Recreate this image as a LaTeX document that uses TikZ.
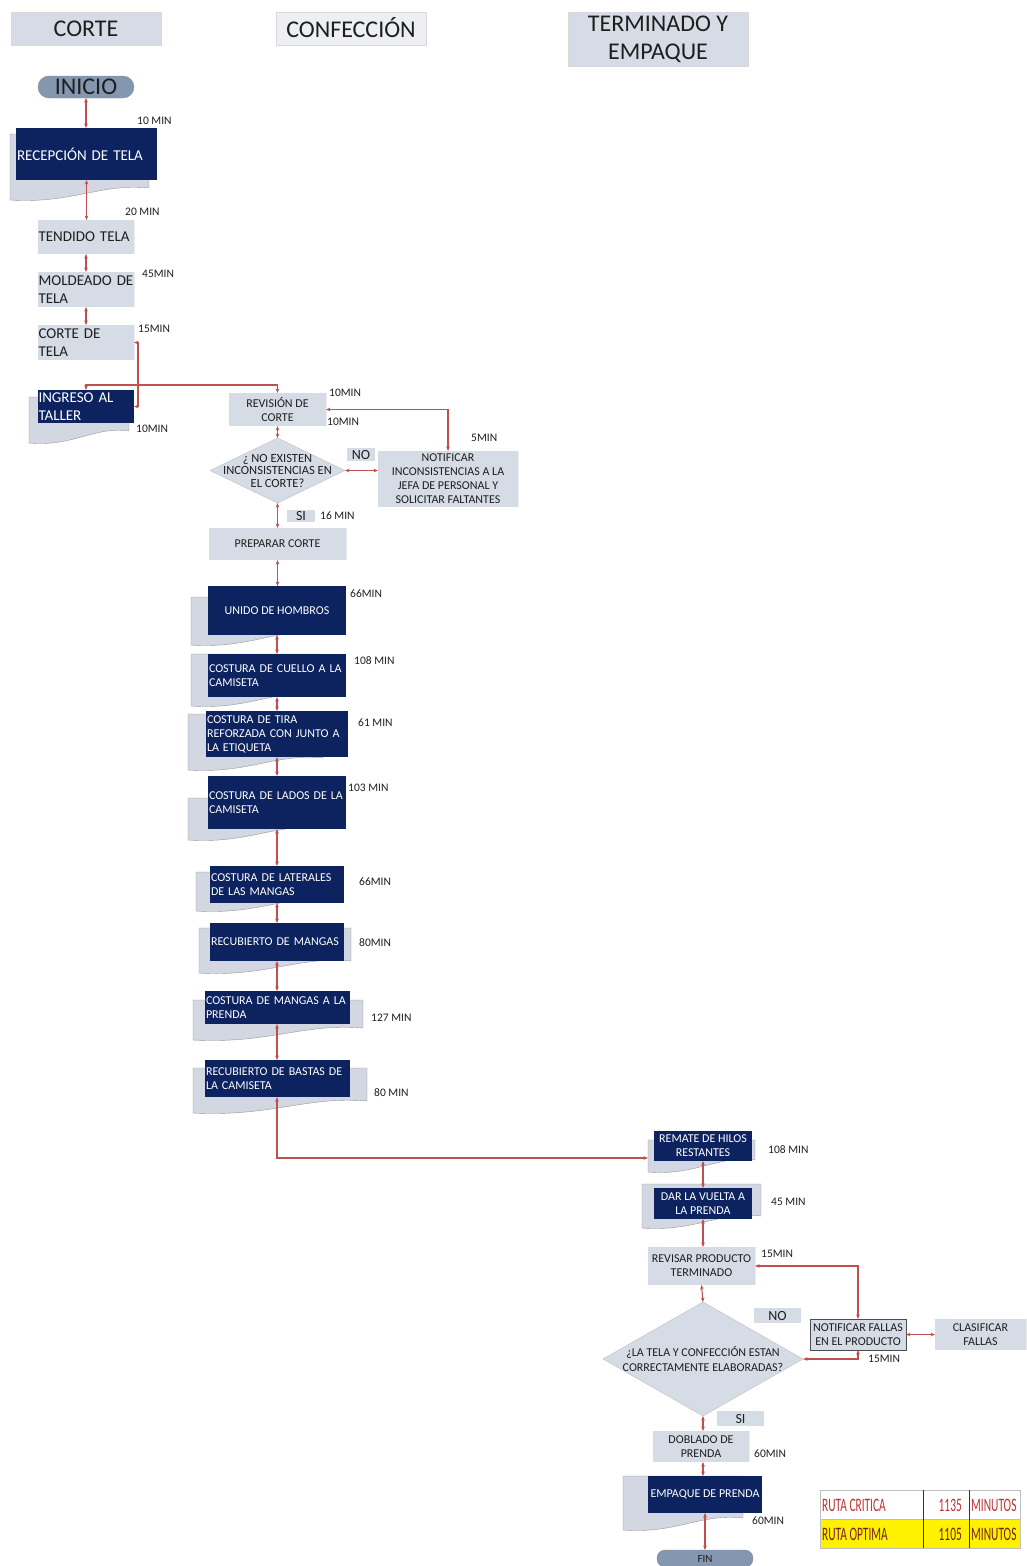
\documentclass[tikz,border=0pt]{standalone}
\usepackage{fontspec}
\setmainfont{Carlito}
\newfontfamily\tabfont[FakeStretch=0.6]{Carlito}
\usetikzlibrary{arrows.meta,shapes.geometric}
\definecolor{navyc}{RGB}{12,35,95}
\definecolor{lightc}{RGB}{214,220,229}
\definecolor{lightcc}{RGB}{237,239,243}
\definecolor{slatec}{RGB}{132,151,176}
\definecolor{connc}{RGB}{192,80,77}
\definecolor{textc}{RGB}{30,30,30}
\definecolor{redc}{RGB}{192,50,50}
\definecolor{darkredc}{RGB}{120,30,30}
\definecolor{docfill}{RGB}{210,215,225}
\newcommand\mydoc[4]{%
  \pgfmathsetmacro\dw{#3-#1}%
  \filldraw[fill=docfill,draw=black!40,line width=0.4pt] (#1,#2) -- (#3,#2) -- (#3,{#4-12}) .. controls ({#3-0.35*\dw},{#4-17}) and ({#1+0.45*\dw},{#4+4}) .. (#1,#4) -- cycle;}
\tikzset{
  base/.style={inner sep=0pt, outer sep=0pt, anchor=north west, font=\fontsize{12}{14}\selectfont},
  cfont/.style={font=\fontsize{15}{17.5}\selectfont},
  navybox/.style={base, fill=navyc, text=white},
  lightbox/.style={base, fill=lightc, text=textc, path picture={\draw[black!60,line width=0.9pt] (path picture bounding box.north east) -- (path picture bounding box.south east);}},
  hdr/.style={base, fill=lightc, draw=black!15, text=textc, align=center, font=\fontsize{24}{28}\selectfont},
  pill/.style={base, fill=slatec, draw=black!45, text=textc, align=center},
  lbl/.style={base, fill=lightc, text=textc, align=center, font=\fontsize{14}{14}\selectfont},
  tlabel/.style={anchor=west, inner sep=0pt, text=textc, font=\fontsize{11.5}{13}\selectfont},
  conn/.style={draw=connc, line width=1.1pt, {Stealth[length=4.5pt,width=3.6pt]}-{Stealth[length=4.5pt,width=3.6pt]}},
  ttext/.style={inner sep=0pt, font=\tabfont\fontsize{19}{20}\selectfont},
}
\begin{document}
\begin{tikzpicture}[x=1pt,y=-1pt]
\useasboundingbox (0,0) rectangle (1026,1566);
% headers
\node[hdr, minimum width=150, minimum height=33] (hcorte) at (11,12) {CORTE};
\node[hdr, fill=lightcc, minimum width=150, minimum height=33] (hconf) at (276,12) {\raisebox{1.5pt}{CONFECCIÓN}};
\node[hdr, minimum width=180, minimum height=54] (hterm) at (568,12) {TERMINADO Y\\EMPAQUE};
% CORTE column
\node[pill, rounded corners=11pt, minimum width=96, minimum height=22, font=\fontsize{24}{24}\selectfont] (inicio) at (38,76) {INICIO};
\mydoc{10}{134}{149}{200}
\node[navybox, cfont, align=left, text width=139, inner xsep=1pt, minimum height=52] (recep) at (16,128) {RECEPCIÓN DE TELA};
\node[lightbox, cfont, align=left, text width=95, inner xsep=0.5pt, minimum height=34] (tendido) at (38,220) {TENDIDO TELA};
\node[lightbox, cfont, align=left, text width=95, inner xsep=0.5pt, minimum height=35] (moldeado) at (38,272) {\mbox{MOLDEADO DE}\\TELA};
\node[lightbox, cfont, align=left, text width=95, inner xsep=0.5pt, minimum height=35] (cortetela) at (38,325) {CORTE DE\\TELA};
\mydoc{29}{397}{129}{443}
\node[navybox, cfont, align=left, text width=95, inner xsep=0.5pt, minimum height=33] (ingreso) at (38,390) {INGRESO AL\\TALLER};
% CONFECCION column
\node[lightbox, align=center, minimum width=97, minimum height=33] (revision) at (229,393) {REVISIÓN DE\\CORTE};
\node[diamond, fill=lightc, draw=black!25, inner sep=0pt, outer sep=0pt, minimum width=135, minimum height=65,
  label={[align=center, inner sep=0pt, text=textc, font=\fontsize{12.5}{12.5}\selectfont]center:{¿ NO EXISTEN\\INCONSISTENCIAS EN\\EL CORTE?}}] (dia1) at (277.5,470.5) {};
\node[lightbox, align=center, minimum width=140, minimum height=56] (notif) at (378,451) {NOTIFICAR\\INCONSISTENCIAS A LA\\JEFA DE PERSONAL Y\\SOLICITAR FALTANTES};
\node[lbl, minimum width=28, minimum height=13] (no1) at (347,448) {NO};
\node[lbl, minimum width=28, minimum height=12] (si1) at (287,510) {SI};
\node[lightbox, align=center, minimum width=137, minimum height=32] (prep) at (209,528) {PREPARAR CORTE};
\mydoc{191}{597}{322}{645}
\node[navybox, align=center, minimum width=138, minimum height=49] (unido) at (208,586) {UNIDO DE HOMBROS};
\mydoc{191}{654}{320}{706}
\node[navybox, align=left, text width=136, inner xsep=1pt, minimum height=43] (cuello) at (208,654) {COSTURA DE CUELLO A LA\\CAMISETA};
\mydoc{188}{714}{323}{770}
\node[navybox, align=left, text width=140, inner xsep=1pt, minimum height=46] (tira) at (206,711) {COSTURA DE TIRA\\REFORZADA CON JUNTO A\\LA ETIQUETA};
\mydoc{188}{798}{323}{840}
\node[navybox, align=left, text width=136, inner xsep=1pt, minimum height=53] (lados) at (208,776) {COSTURA DE LADOS DE LA\\CAMISETA};
\mydoc{196}{872}{337}{911}
\node[navybox, align=left, text width=132, inner xsep=1pt, minimum height=37] (laterales) at (210,866) {COSTURA DE LATERALES\\DE LAS MANGAS};
\mydoc{199}{928}{351}{973}
\node[navybox, align=left, text width=132, inner xsep=1pt, minimum height=38] (recmangas) at (210,923) {RECUBIERTO DE MANGAS};
\mydoc{193}{1000}{363}{1040}
\node[navybox, align=left, text width=143, inner xsep=1pt, minimum height=33] (mangasprenda) at (205,991) {COSTURA DE MANGAS A LA\\PRENDA};
\mydoc{193}{1068}{367}{1113}
\node[navybox, align=left, text width=143, inner xsep=1pt, minimum height=37] (bastas) at (205,1060) {RECUBIERTO DE BASTAS DE\\LA CAMISETA};
% TERMINADO column
\mydoc{648}{1140}{755}{1172}
\coordinate (remdoc) at (648,1158);
\node[navybox, align=center, minimum width=98, minimum height=30] (remate) at (654,1131) {REMATE DE HILOS\\RESTANTES};
\mydoc{642}{1184}{761}{1228}
\node[navybox, align=center, minimum width=98, minimum height=31] (vuelta) at (654,1188) {DAR LA VUELTA A\\LA PRENDA};
\node[lightbox, align=center, minimum width=107, minimum height=38] (revisar) at (648,1247) {REVISAR PRODUCTO\\TERMINADO};
\node[diamond, fill=lightc, draw=black!25, inner sep=0pt, outer sep=0pt, minimum width=200, minimum height=114,
  label={[align=center, inner sep=0pt, text=textc, font=\fontsize{12}{15}\selectfont]center:{¿LA TELA Y CONFECCIÓN ESTAN\\CORRECTAMENTE ELABORADAS?}}] (dia2) at (703,1359) {};
\node[lbl, minimum width=47, minimum height=15] (no2) at (754,1308) {NO};
\node[lightbox, draw=black!70, align=center, minimum width=96, minimum height=31] (notfallas) at (810,1319) {NOTIFICAR FALLAS\\EN EL PRODUCTO};
\node[lightbox, align=center, minimum width=91, minimum height=31] (clasificar) at (935,1319) {CLASIFICAR\\FALLAS};
\node[lbl, minimum width=47, minimum height=15] (si2) at (717,1411) {SI};
\node[lightbox, align=center, minimum width=96, minimum height=31] (doblado) at (653,1431) {DOBLADO DE\\PRENDA};
\mydoc{623}{1476}{743}{1530}
\node[navybox, align=center, minimum width=114, minimum height=37] (empaque) at (648,1476) {EMPAQUE DE PRENDA};
\node[pill, rounded corners=8pt, minimum width=96, minimum height=17, font=\fontsize{11}{12}\selectfont] (fin) at (657,1550) {FIN};
% time labels
\node[tlabel] (t1) at (137,121) {10 MIN};
\node[tlabel] (t2) at (125,212) {20 MIN};
\node[tlabel] (t3) at (142,274) {45MIN};
\node[tlabel] (t4) at (138,329) {15MIN};
\node[tlabel] (t5) at (136,429) {10MIN};
\node[tlabel] (t6) at (329,393) {10MIN};
\node[tlabel] (t7) at (327,422) {10MIN};
\node[tlabel] (t8) at (471,438) {5MIN};
\node[tlabel] (t9) at (320,516) {16 MIN};
\node[tlabel] (t10) at (350,594) {66MIN};
\node[tlabel] (t11) at (354,661) {108 MIN};
\node[tlabel] (t12) at (358,723) {61 MIN};
\node[tlabel] (t13) at (348,788) {103 MIN};
\node[tlabel] (t14) at (359,882) {66MIN};
\node[tlabel] (t15) at (359,943) {80MIN};
\node[tlabel] (t16) at (371,1018) {127 MIN};
\node[tlabel] (t17) at (374,1093) {80 MIN};
\node[tlabel] (t18) at (768,1150) {108 MIN};
\node[tlabel] (t19) at (771,1202) {45 MIN};
\node[tlabel] (t20) at (761,1254) {15MIN};
\node[tlabel] (t21) at (868,1359) {15MIN};
\node[tlabel] (t22) at (754,1454) {60MIN};
\node[tlabel] (t23) at (752,1521) {60MIN};
% connectors
\draw[conn] (inicio.south) -- (inicio.south |- recep.north);
\draw[conn] (recep.south) -- (recep.south |- tendido.north);
\draw[conn] (tendido.south) -- (tendido.south |- moldeado.north);
\draw[conn] (moldeado.south) -- (moldeado.south |- cortetela.north);
\draw[conn] (cortetela.east) -- ++(4,0) |- (ingreso.east);
\draw[conn] (ingreso.north) -- ++(0,-5) -| (revision.north);
\draw[conn] (notif.north) |- (revision.east);
\draw[conn] (revision.south) -- (dia1.north);
\draw[conn] (dia1.east) -- (dia1.east -| notif.west);
\draw[conn] (dia1.south) -- (dia1.south |- prep.north);
\draw[conn] (prep.south) -- (prep.south |- unido.north);
\draw[conn] (unido.south) -- (unido.south |- cuello.north);
\draw[conn] (cuello.south) -- (cuello.south |- tira.north);
\draw[conn] (cuello.south |- tira.south) -- (cuello.south |- lados.north);
\draw[conn] (lados.south) -- (lados.south |- laterales.north);
\draw[conn] (lados.south |- laterales.south) -- (lados.south |- recmangas.north);
\draw[conn] (lados.south |- recmangas.south) -- (lados.south |- mangasprenda.north);
\draw[conn] (lados.south |- mangasprenda.south) -- (lados.south |- bastas.north);
\draw[conn] (lados.south |- bastas.south) |- (remdoc);
\draw[conn] (remate.south) -- (remate.south |- vuelta.north);
\draw[conn] (vuelta.south) -- (vuelta.south |- revisar.north);
\draw[conn] (revisar.south) -- (dia2.north);
\draw[conn] (notfallas.north) |- (revisar.east);
\draw[conn] (notfallas.south) |- (dia2.east);
\draw[conn] (notfallas.east) -- (clasificar.west);
\draw[conn] (dia2.south) -- (dia2.south |- doblado.north);
\draw[conn] (dia2.south |- doblado.south) -- (dia2.south |- empaque.north);
\draw[conn] (empaque.south) -- (empaque.south |- fin.north);
% table
\fill[white] (820,1490) rectangle (1020,1519);
\fill[yellow] (820,1519) rectangle (1020,1548);
\draw[black!25, line width=0.5pt] (820,1490) rectangle (1020,1548);
\draw[black!25, line width=0.5pt] (820,1519) -- (1020,1519);
\draw[black!80, line width=0.8pt] (923,1490) -- (923,1548);
\draw[black!80, line width=0.8pt] (969,1490) -- (969,1548);
\node[ttext, anchor=west, text=redc] (r1a) at (822,1505) {RUTA CRITICA};
\node[ttext, anchor=east, text=redc] (r1b) at (962,1505) {1135};
\node[ttext, anchor=west, text=redc] (r1c) at (971,1505) {MINUTOS};
\node[ttext, anchor=west, text=darkredc] (r2a) at (822,1534) {RUTA OPTIMA};
\node[ttext, anchor=east, text=darkredc] (r2b) at (962,1534) {1105};
\node[ttext, anchor=west, text=darkredc] (r2c) at (971,1534) {MINUTOS};
\end{tikzpicture}
\end{document}
